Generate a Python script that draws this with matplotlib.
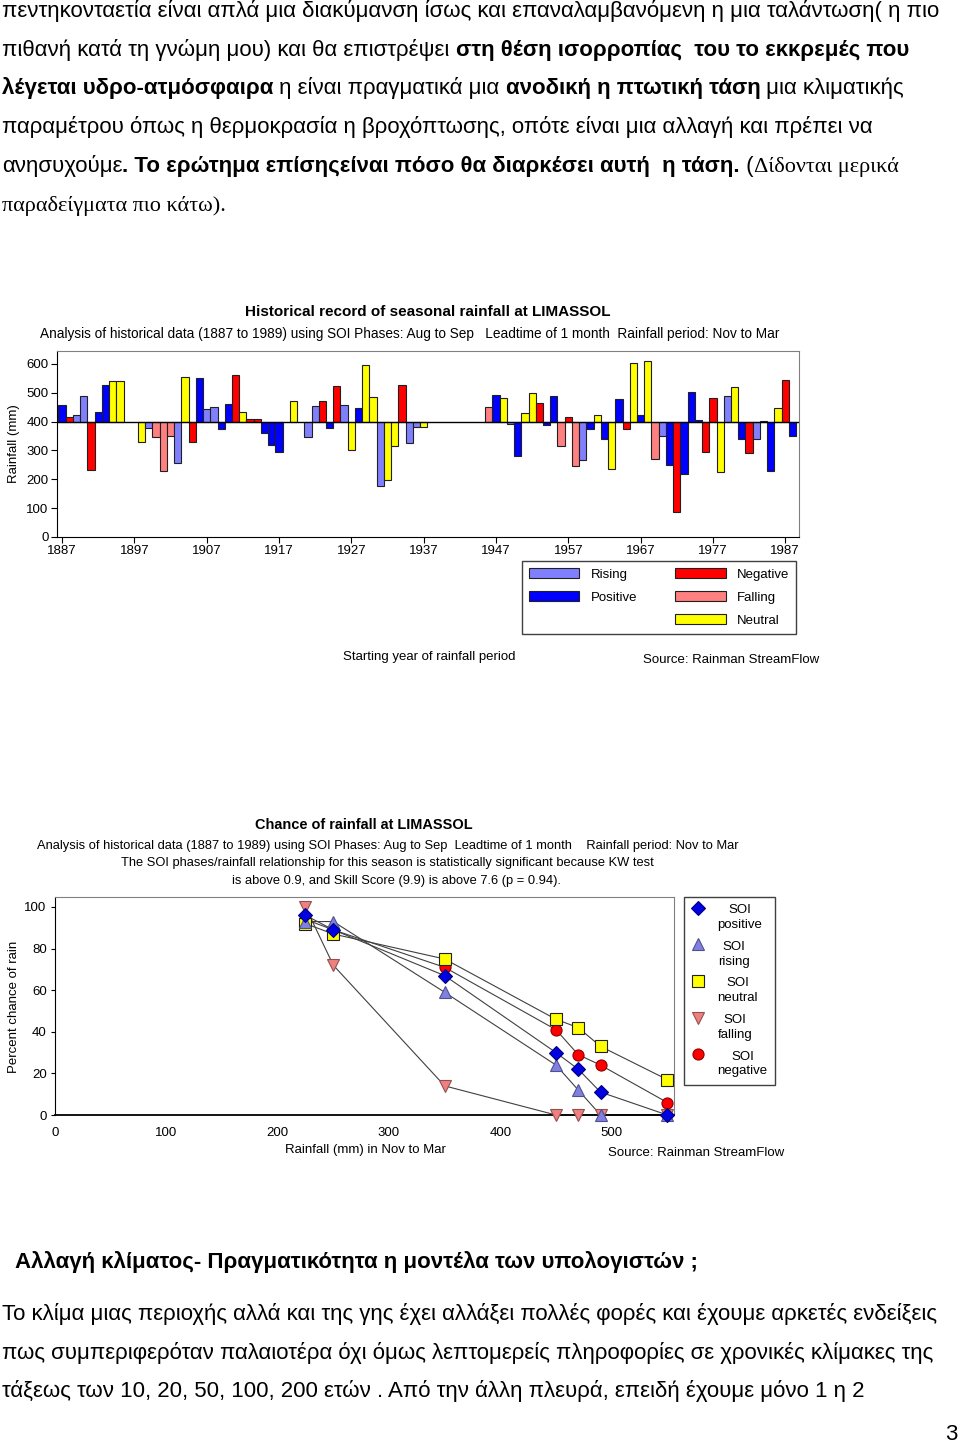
import matplotlib
matplotlib.use("Agg")
import matplotlib.pyplot as plt
from matplotlib import font_manager
from matplotlib.patches import Patch

# ---------------- data ----------------
years = [1887, 1888, 1889, 1890, 1891, 1892, 1893, 1894, 1895, 1898, 1899, 1900,
         1901, 1902, 1903, 1904, 1905, 1906, 1907, 1908, 1909, 1910, 1911, 1912,
         1913, 1914, 1915, 1916, 1917, 1919, 1921, 1922, 1923, 1924, 1925, 1926,
         1927, 1928, 1929, 1930, 1931, 1932, 1933, 1934, 1935, 1936, 1937, 1946,
         1947, 1948, 1949, 1950, 1951, 1952, 1953, 1954, 1955, 1956, 1957, 1958,
         1959, 1960, 1961, 1962, 1963, 1964, 1965, 1966, 1967, 1968, 1969, 1970,
         1971, 1972, 1973, 1974, 1975, 1976, 1977, 1978, 1979, 1980, 1981, 1982,
         1983, 1984, 1985, 1986, 1987, 1988]
rainfall = [458, 417, 423, 490, 234, 435, 527, 542, 542, 331, 377, 346,
            229, 349, 258, 556, 331, 551, 444, 450, 375, 462, 563, 435,
            409, 409, 362, 319, 294, 471, 346, 455, 471, 378, 523, 459,
            302, 447, 596, 486, 178, 197, 315, 527, 326, 383, 383, 451,
            492, 483, 391, 282, 430, 500, 463, 390, 488, 315, 415, 247,
            266, 376, 423, 339, 237, 480, 373, 602, 423, 610, 270, 350,
            250, 86, 218, 503, 407, 294, 482, 226, 488, 519, 339, 290,
            339, 403, 229, 447, 546, 349]
# P positive, R rising, N negative, F falling, Z neutral
phase = ["P", "N", "R", "R", "N", "P", "P", "Z", "Z", "Z", "R", "F",
         "F", "F", "R", "Z", "N", "P", "R", "R", "P", "P", "N", "Z",
         "N", "N", "P", "P", "P", "Z", "R", "R", "N", "P", "N", "R",
         "Z", "P", "Z", "Z", "R", "Z", "Z", "N", "R", "R", "Z", "F",
         "P", "Z", "R", "P", "Z", "Z", "N", "P", "P", "F", "N", "F",
         "R", "P", "Z", "P", "Z", "P", "N", "Z", "P", "Z", "F", "R",
         "P", "N", "P", "P", "P", "N", "N", "Z", "R", "Z", "P", "N",
         "R", "P", "P", "Z", "N", "P"]
baseline = 400
year_ticks = list(range(1887, 1988, 10))

rain_levels = [225, 250, 350, 450, 470, 490, 550]
soi_positive = [96, 89, 67, 30, 22, 11, 0]
soi_rising = [93, 93, 59, 24, 12, 0, 0]
soi_neutral = [92, 87, 75, 46, 42, 33, 17]
soi_falling = [100, 72, 14, 0, 0, 0, 0]
soi_negative = [94, 89, 71, 41, 29, 24, 6]

# ---------------- fonts ----------------
names = {f.name for f in font_manager.fontManager.ttflist}
NARROW = "Liberation Sans Narrow" if "Liberation Sans Narrow" in names else "Liberation Sans"
NS = 11 if NARROW == "Liberation Sans Narrow" else 9.5
SANS = "Liberation Sans"
SERIF = "Liberation Serif"
plt.rcParams["font.family"] = [NARROW, "DejaVu Sans"]

W, H = 960, 1444
fig = plt.figure(figsize=(W / 100, H / 100), dpi=100)
fig.patch.set_facecolor("white")


def fx(x):
    return x / W


def fy(y):
    return 1 - y / H


renderer = fig.canvas.get_renderer()


def text_w(s, **kw):
    t = fig.text(0, 0, s + "|", **kw)
    w1 = t.get_window_extent(renderer).width
    t.remove()
    t = fig.text(0, 0, "|", **kw)
    w2 = t.get_window_extent(renderer).width
    t.remove()
    return w1 - w2


def draw_line(x, y, segs, size):
    for s, weight, fam in segs:
        kw = dict(fontsize=size, fontweight=weight, family=[fam, "DejaVu Sans"])
        fig.text(fx(x), fy(y), s, va="baseline", ha="left", color="black", **kw)
        x += text_w(s, **kw) * W / fig.bbox.width


# body text size fitted to the first line width
line1 = "πεντηκονταετία είναι απλά μια διακύμανση ίσως και επαναλαμβανόμενη η μια ταλάντωση( η πιο"
w15 = text_w(line1, fontsize=15, family=[SANS])
BODY = 15 * 946 / w15

R, B = "normal", "bold"
top_lines = [
    [(line1, R, SANS)],
    [("πιθανή κατά τη γνώμη μου) και θα επιστρέψει ", R, SANS),
     ("στη θέση ισορροπίας  του το εκκρεμές που", B, SANS)],
    [("λέγεται υδρο-ατμόσφαιρα", B, SANS), (" η είναι πραγματικά μια ", R, SANS),
     ("ανοδική η πτωτική τάση", B, SANS), (" μια κλιματικής", R, SANS)],
    [("παραμέτρου όπως η θερμοκρασία η βροχόπτωσης, οπότε είναι μια αλλαγή και πρέπει να", R, SANS)],
    [("ανησυχούμε", R, SANS),
     (". Το ερώτημα επίσηςείναι πόσο θα διαρκέσει αυτή  η τάση.", B, SANS),
     (" (", R, SANS), ("Δίδονται μερικά", R, SERIF)],
    [("παραδείγματα πιο κάτω).", R, SERIF)],
]
for i, segs in enumerate(top_lines):
    draw_line(2, 17 + 38.7 * i, segs, BODY)

draw_line(15, 1268, [("Αλλαγή κλίματος- Πραγματικότητα η μοντέλα των υπολογιστών ;", B, SANS)], BODY)
bottom_lines = [
    "Το κλίμα μιας περιοχής αλλά και της γης έχει αλλάξει πολλές φορές και έχουμε αρκετές ενδείξεις",
    "πως συμπεριφερόταν παλαιοτέρα όχι όμως λεπτομερείς πληροφορίες σε χρονικές κλίμακες της",
    "τάξεως των 10, 20, 50, 100, 200 ετών . Από την άλλη πλευρά, επειδή έχουμε μόνο 1 η 2",
]
for i, s in enumerate(bottom_lines):
    draw_line(2, 1320 + 38.6 * i, [(s, R, SANS)], BODY)
fig.text(fx(957), fy(1440), "3", fontsize=BODY, family=[SANS], ha="right", va="baseline")

# ---------------- chart 1 ----------------
colors = {"R": "#8080FF", "P": "#0000FF", "N": "#FF0000", "F": "#FF8080", "Z": "#FFFF00"}
labels = {"R": "Rising", "P": "Positive", "N": "Negative", "F": "Falling", "Z": "Neutral"}

ax1 = fig.add_axes([fx(57), fy(537), (799 - 57) / W, (537 - 351) / H])
ax1.bar(years, [v - baseline for v in rainfall], bottom=baseline, width=1.0,
        color=[colors[p] for p in phase], edgecolor="#202020", linewidth=0.8, zorder=2)
ax1.axhline(baseline, color="black", lw=1.0, zorder=3)
ax1.set_xlim(1886.3, 1988.9)
ax1.set_ylim(0, 645)
ax1.set_xticks(year_ticks)
ax1.set_yticks(range(0, 601, 100))
ax1.tick_params(labelsize=NS, length=4, width=0.8, direction="out", pad=2)
for lab in ax1.get_xticklabels() + ax1.get_yticklabels():
    lab.set_family([NARROW, "DejaVu Sans"])
for s in ("top", "right"):
    ax1.spines[s].set_color("#808080")
for s in ("left", "bottom"):
    ax1.spines[s].set_color("black")

fig.text(fx(428), fy(312), "Historical record of seasonal rainfall at LIMASSOL",
         fontsize=NS * 1.16, fontweight="bold", ha="center", va="center")
fig.text(fx(410), fy(334),
         "Analysis of historical data (1887 to 1989) using SOI Phases: Aug to Sep   Leadtime of 1 month  Rainfall period: Nov to Mar",
         fontsize=NS * 1.03, ha="center", va="center")
fig.text(fx(14), fy(444), "Rainfall (mm)", rotation=90, fontsize=NS, ha="center", va="center")
fig.text(fx(429), fy(657), "Starting year of rainfall period", fontsize=NS, ha="center", va="center")
fig.text(fx(643), fy(660), "Source: Rainman StreamFlow", fontsize=NS, ha="left", va="center")

blank = Patch(facecolor="none", edgecolor="none", label=" ")
handles = [Patch(facecolor=colors[k], edgecolor="#202020", lw=0.8, label=labels[k]) for k in ("R", "P")]
handles += [blank]
handles += [Patch(facecolor=colors[k], edgecolor="#202020", lw=0.8, label=labels[k]) for k in ("N", "F", "Z")]
leg1 = fig.legend(handles=handles, ncol=2, loc="upper left",
                  bbox_to_anchor=(fx(522), fy(561)), bbox_transform=fig.transFigure,
                  fontsize=NS, frameon=True, fancybox=False, framealpha=1,
                  edgecolor="#404040", handlelength=3.8, handleheight=0.75,
                  handletextpad=0.85, columnspacing=2.9, labelspacing=0.8,
                  borderpad=0.55, borderaxespad=0)
leg1.get_frame().set_linewidth(1.0)

# ---------------- chart 2 ----------------
ax2 = fig.add_axes([fx(55), fy(1115), (674 - 55) / W, (1115 - 897) / H])
series = [
    ("SOI\npositive", soi_positive, "D", "#0000E0", "#000080", 7),
    ("SOI\nrising", soi_rising, "^", "#8080E0", "#505090", 9),
    ("SOI\nneutral", soi_neutral, "s", "#FFFF00", "#202020", 8),
    ("SOI\nfalling", soi_falling, "v", "#F08080", "#905050", 9),
    ("SOI\nnegative", soi_negative, "o", "#FF0000", "#900000", 8),
]
for lab, vals, mk, fc, ec, ms in series:
    ax2.plot(rain_levels, vals, color="#404040", lw=0.8, zorder=2, clip_on=False)
for lab, vals, mk, fc, ec, ms in reversed(series):
    ax2.plot(rain_levels, vals, ls="none", marker=mk, markersize=ms, markerfacecolor=fc,
             markeredgecolor=ec, markeredgewidth=0.8, zorder=3, clip_on=False, label=lab)
ax2.set_xlim(0, 556)
ax2.set_ylim(0, 104.8)
ax2.set_xticks(range(0, 501, 100))
ax2.set_yticks(range(0, 101, 20))
ax2.tick_params(labelsize=NS, length=3, width=0.8, direction="out", pad=3)
ax2.tick_params(axis="x", length=0, pad=9)
for lab in ax2.get_xticklabels() + ax2.get_yticklabels():
    lab.set_family([NARROW, "DejaVu Sans"])
for s in ("top", "right"):
    ax2.spines[s].set_color("#808080")
for s in ("left", "bottom"):
    ax2.spines[s].set_color("black")
ax2.spines["bottom"].set_linewidth(1.3)

fig.text(fx(364), fy(825), "Chance of rainfall at LIMASSOL",
         fontsize=NS * 1.1, fontweight="bold", ha="center", va="center")
fig.text(fx(388), fy(846),
         "Analysis of historical data (1887 to 1989) using SOI Phases: Aug to Sep  Leadtime of 1 month    Rainfall period: Nov to Mar",
         fontsize=NS * 0.98, ha="center", va="center")
fig.text(fx(387), fy(863),
         "The SOI phases/rainfall relationship for this season is statistically significant because KW test",
         fontsize=NS * 0.98, ha="center", va="center")
fig.text(fx(397), fy(881), "is above 0.9, and Skill Score (9.9) is above 7.6 (p = 0.94).",
         fontsize=NS * 0.98, ha="center", va="center")
fig.text(fx(14), fy(1007), "Percent chance of rain", rotation=90, fontsize=NS, ha="center", va="center")
fig.text(fx(365), fy(1150), "Rainfall (mm) in Nov to Mar", fontsize=NS, ha="center", va="center")
fig.text(fx(608), fy(1153), "Source: Rainman StreamFlow", fontsize=NS, ha="left", va="center")

h2, l2 = ax2.get_legend_handles_labels()
h2, l2 = h2[::-1], l2[::-1]
leg2 = fig.legend(h2, l2, loc="upper left", bbox_to_anchor=(fx(684), fy(897)),
                  bbox_transform=fig.transFigure, fontsize=NS, frameon=True,
                  fancybox=False, framealpha=1, edgecolor="#404040",
                  handlelength=1.0, handletextpad=1.0, labelspacing=0.75,
                  borderpad=0.55, borderaxespad=0)
leg2.get_frame().set_linewidth(1.0)
for t in leg2.get_texts():
    t.set_multialignment("center")
    t.set_linespacing(1.3)
for hl in leg2.legend_handles:
    yd = hl.get_ydata()
    hl.set_ydata([v + 7 for v in yd])

fig.savefig("out.png", dpi=100, facecolor="white")
